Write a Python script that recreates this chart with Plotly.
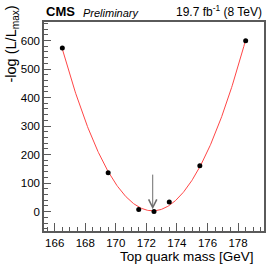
import numpy as np
import plotly.graph_objects as go

# Data
top_mass = [166.5, 169.5, 171.5, 172.5, 173.5, 175.5, 178.5]
nll = [574, 136, 7, 0, 34, 161, 599]
x_ticks = [166, 168, 170, 172, 174, 176, 178]
y_ticks = [0, 100, 200, 300, 400, 500, 600]
arrow_top = 135
arrow_tip = 8

# Parabola fit to the points (as in the original analysis)
coef = np.polyfit(top_mass, nll, 2)
xf = np.linspace(min(top_mass), max(top_mass), 300)
yf = np.polyval(coef, xf)
x_min = -coef[1] / (2 * coef[0])

FONT = "Liberation Sans, Arial, Helvetica, sans-serif"

fig = go.Figure()
fig.add_trace(go.Scatter(x=xf, y=yf, mode="lines",
                         line=dict(color="rgb(255,70,70)", width=1),
                         hoverinfo="skip", showlegend=False))
fig.add_trace(go.Scatter(x=top_mass, y=nll, mode="markers",
                         marker=dict(color="black", size=5),
                         showlegend=False))

fig.add_annotation(x=x_min, y=arrow_tip, ax=x_min, ay=arrow_top,
                   xref="x", yref="y", axref="x", ayref="y",
                   text="", showarrow=True, arrowhead=5, arrowsize=1.6,
                   arrowwidth=1, arrowcolor="rgb(110,110,110)")

axis_common = dict(
    showline=True, linecolor="rgb(90,90,90)", linewidth=1.5, mirror=True,
    ticks="inside", tickcolor="rgb(90,90,90)", showgrid=False, zeroline=False,
    tickfont=dict(family=FONT, size=11.5, color="black"),
)

fig.update_xaxes(range=[165.3, 179.7], tickvals=x_ticks, ticklen=8,
                 minor=dict(ticks="inside", dtick=0.5, ticklen=4,
                            tickcolor="rgb(90,90,90)"),
                 **axis_common)
fig.update_yaxes(range=[-68, 665], tickvals=y_ticks, ticklen=7,
                 minor=dict(ticks="inside", dtick=20, ticklen=4,
                            tickcolor="rgb(90,90,90)"),
                 **axis_common)

fig.add_annotation(xref="paper", yref="paper", x=0, y=1, xanchor="left",
                   yanchor="bottom", yshift=1, showarrow=False,
                   text="<b>CMS</b>", font=dict(family=FONT, size=13, color="black"))
fig.add_annotation(xref="paper", yref="paper", x=0, y=1, xanchor="left",
                   yanchor="bottom", xshift=37, yshift=1, showarrow=False,
                   text="<i>Preliminary</i>", font=dict(family=FONT, size=11, color="black"))
fig.add_annotation(xref="paper", yref="paper", x=1, y=1, xanchor="right",
                   yanchor="bottom", yshift=1, showarrow=False,
                   text="19.7 fb<sup>-1</sup> (8 TeV)",
                   font=dict(family=FONT, size=12, color="black"))
fig.add_annotation(xref="paper", yref="paper", x=1, y=0, xanchor="right",
                   yanchor="top", xshift=-8, yshift=-16, showarrow=False,
                   text="Top quark mass [GeV]",
                   font=dict(family=FONT, size=13.5, color="black"))
fig.add_annotation(xref="paper", yref="paper", x=0, y=1, xanchor="right",
                   yanchor="top", xshift=-22, yshift=18, showarrow=False,
                   textangle=-90, text="-log (L/L<sub>max</sub>)",
                   font=dict(family=FONT, size=14.5, color="black"))

fig.update_layout(width=276, height=265,
                  margin=dict(l=44, r=10, t=22, b=34),
                  plot_bgcolor="white", paper_bgcolor="white",
                  font=dict(family=FONT))
fig.write_html("out.html", config={"displayModeBar": False},
               post_script="document.body.style.margin='0';document.body.style.overflow='hidden';")
